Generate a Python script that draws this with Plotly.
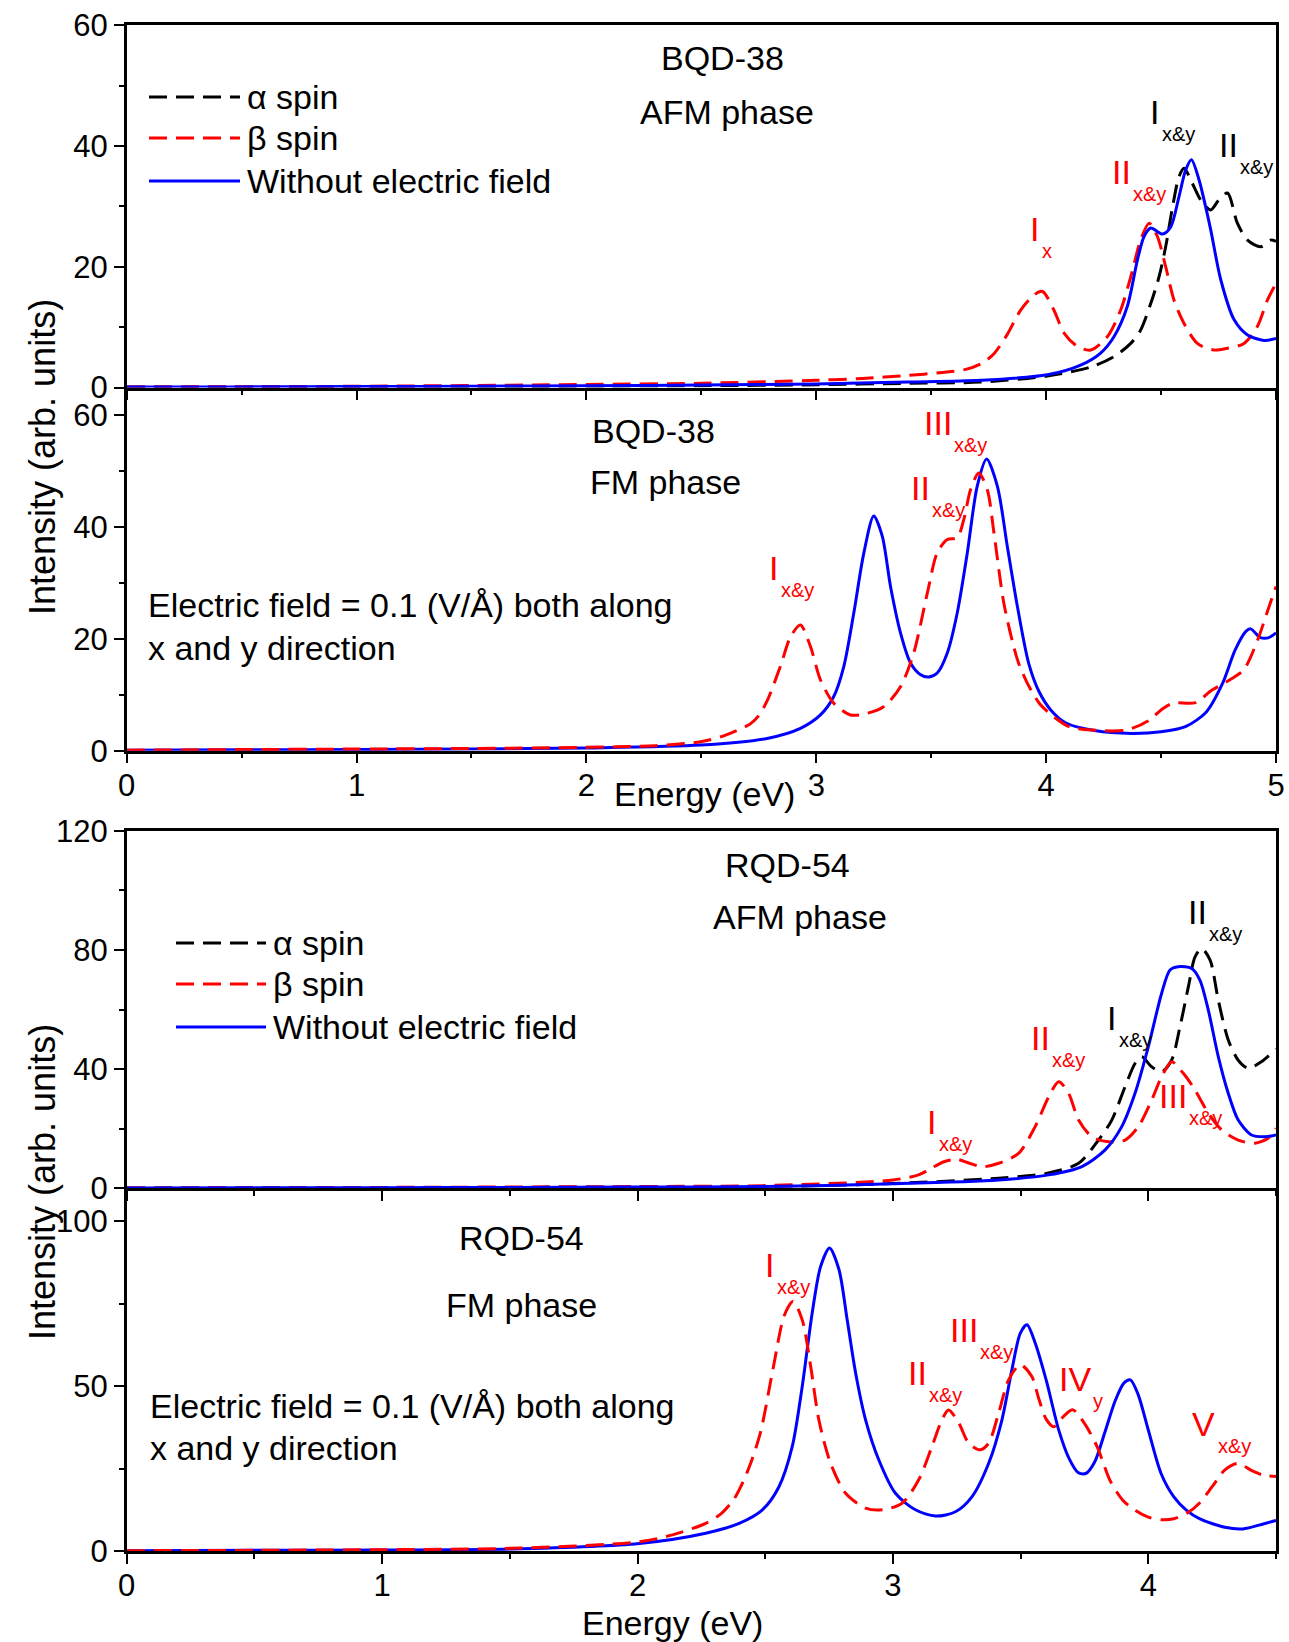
import plotly.graph_objects as go

W, H = 1289, 1642
FONT = "Liberation Sans, Arial, Helvetica, sans-serif"

# ---------------- data ----------------
# Panel 1: BQD-38, AFM phase
p1_blue_x = [0, 0.5, 1, 1.5, 2, 2.5, 3, 3.4, 3.715, 4.005, 4.15, 4.237, 4.295, 4.353, 4.397, 4.426, 4.455, 4.506,
             4.542, 4.578, 4.607, 4.632, 4.665, 4.694, 4.716, 4.76, 4.818, 4.876, 4.948, 5.0]
p1_blue_y = [0.1, 0.1, 0.15, 0.2, 0.3, 0.4, 0.6, 0.9, 1.2, 2.1, 3.7, 5.7, 8.4, 13.4, 21.1, 25.0, 26.4, 25.4,
             26.6, 31.6, 36.0, 37.7, 34.4, 29.9, 26.1, 17.8, 11.2, 8.7, 7.8, 8.1]
p1_alpha_x = [0, 1, 2, 2.5, 3, 3.4, 3.715, 4.005, 4.195, 4.295, 4.368, 4.411, 4.455, 4.491, 4.52, 4.55, 4.578, 4.6,
              4.636, 4.673, 4.716, 4.75, 4.789, 4.832, 4.876, 4.934, 4.977, 5.0]
p1_alpha_y = [0.05, 0.1, 0.2, 0.3, 0.45, 0.7, 0.9, 1.9, 3.4, 5.1, 7.3, 9.5, 13.9, 18.3, 23.3, 29.9, 34.9, 36.3,
              33.8, 31.0, 29.4, 31.0, 32.2, 27.2, 24.4, 23.3, 24.4, 24.2]
p1_beta_x = [0, 1, 2, 2.5, 3, 3.2, 3.4, 3.55, 3.65, 3.72, 3.773, 3.831, 3.889, 3.947, 3.984, 4.034, 4.078, 4.136,
             4.194, 4.266, 4.324, 4.368, 4.411, 4.448, 4.484, 4.52, 4.556, 4.6, 4.658, 4.73, 4.789, 4.861, 4.919,
             4.963, 5.0]
p1_beta_y = [0.1, 0.2, 0.5, 0.7, 1.2, 1.5, 2.0, 2.5, 3.0, 4.0, 5.6, 8.8, 12.8, 15.3, 15.9, 12.8, 9.0, 6.8,
             6.2, 8.4, 12.8, 18.3, 24.4, 27.2, 25.0, 20.0, 14.5, 10.6, 7.3, 6.2, 6.5, 7.3, 10.1,
             14.5, 17.2]

# Panel 2: BQD-38, FM phase (with electric field)
p2_blue_x = [0, 0.5, 1, 1.5, 2, 2.496, 2.786, 2.931, 3.018, 3.076, 3.12, 3.163, 3.207, 3.25, 3.287, 3.323, 3.367,
             3.41, 3.454, 3.49, 3.526, 3.57, 3.613, 3.657, 3.7, 3.741, 3.788, 3.831, 3.875, 3.925, 3.97, 4.02,
             4.084, 4.21, 4.372, 4.5, 4.606, 4.696, 4.768, 4.822, 4.87, 4.89, 4.93, 4.966, 5.0]
p2_blue_y = [0.1, 0.15, 0.2, 0.3, 0.5, 1.0, 2.2, 4.0, 6.4, 9.7, 15.1, 24.6, 35.4, 42.0, 38.4, 29.4, 21.0,
             15.7, 13.6, 13.2, 13.9, 17.5, 24.6, 35.4, 47.3, 52.2, 47.3, 36.6, 25.8, 15.5, 10.5, 7.3,
             5.0, 3.6, 3.1, 3.4, 4.3, 6.9, 12.1, 18.0, 21.4, 21.8, 20.3, 20.2, 21.1]
p2_beta_x = [0, 0.5, 1, 1.5, 2, 2.3, 2.496, 2.6, 2.713, 2.75, 2.786, 2.844, 2.888, 2.931, 2.975, 3.018, 3.076,
             3.149, 3.222, 3.294, 3.367, 3.424, 3.483, 3.526, 3.57, 3.613, 3.642, 3.671, 3.707, 3.744, 3.773,
             3.816, 3.875, 3.918, 3.97, 4.02, 4.1, 4.2, 4.35, 4.45, 4.5, 4.55, 4.65, 4.72, 4.8, 4.86, 4.92,
             4.96, 5.0]
p2_beta_y = [0.1, 0.2, 0.3, 0.4, 0.6, 0.9, 1.6, 2.7, 4.8, 6.3, 8.9, 15.1, 20.4, 22.5, 18.6, 12.7, 8.5,
             6.4, 6.7, 7.9, 11.5, 17.5, 28.2, 35.4, 37.8, 38.1, 41.4, 46.7, 49.7, 46.7, 39.0,
             26.4, 16.3, 12.1, 8.5, 6.5, 4.3, 3.7, 3.7, 5.5, 7.3, 8.5, 8.6, 10.8, 12.7, 14.5, 19.8,
             24.6, 29.4]

# Panel 3: RQD-54, AFM phase
p3_blue_x = [0, 0.5, 1, 1.5, 2, 2.5, 3.0, 3.414, 3.61, 3.74, 3.831, 3.896, 3.948, 4.0, 4.052, 4.085, 4.117, 4.17,
             4.202, 4.235, 4.274, 4.313, 4.352, 4.404, 4.456, 4.5]
p3_blue_y = [0.1, 0.15, 0.2, 0.3, 0.4, 0.6, 1.5, 2.8, 4.5, 7.3, 12.9, 20.7, 31.9, 47.5, 65.4, 73.3, 74.4, 73.8,
             69.9, 59.8, 44.2, 31.9, 22.9, 17.9, 17.3, 17.9]
p3_alpha_x = [0, 1, 2, 2.5, 3.0, 3.414, 3.6, 3.727, 3.805, 3.857, 3.909, 3.948, 3.974, 4.013, 4.052, 4.091, 4.124,
              4.157, 4.183, 4.209, 4.242, 4.274, 4.313, 4.352, 4.391, 4.443, 4.5]
p3_alpha_y = [0.1, 0.2, 0.4, 0.6, 1.6, 3.4, 5.0, 8.4, 16.2, 22.9, 34.1, 41.9, 44.2, 40.8, 39.1, 43.0, 54.2,
              67.7, 77.7, 80.5, 76.6, 63.2, 49.8, 43.0, 40.3, 42.5, 46.8]
p3_beta_x = [0, 1, 2, 2.5, 3.0, 3.1, 3.15, 3.2, 3.25, 3.3, 3.35, 3.414, 3.492, 3.557, 3.61, 3.649, 3.688, 3.727,
             3.779, 3.844, 3.909, 3.961, 4.013, 4.052, 4.091, 4.137, 4.183, 4.235, 4.287, 4.352, 4.417, 4.469, 4.5]
p3_beta_y = [0.1, 0.3, 0.6, 0.9, 2.8, 4.5, 6.7, 8.9, 9.7, 8.4, 7.2, 8.4, 11.7, 20.7, 30.7, 35.8, 31.9, 22.9,
             17.3, 15.6, 16.2, 20.7, 29.6, 37.4, 42.5, 38.6, 33.0, 25.2, 19.6, 16.2, 15.1, 16.8, 20.1]

# Panel 4: RQD-54, FM phase (with electric field)
p4_blue_x = [0, 0.5, 1, 1.5, 2.007, 2.267, 2.398, 2.489, 2.554, 2.606, 2.645, 2.684, 2.717, 2.752, 2.789, 2.821,
             2.854, 2.893, 2.945, 3.01, 3.088, 3.167, 3.245, 3.31, 3.375, 3.427, 3.466, 3.499, 3.525, 3.557, 3.6,
             3.65, 3.69, 3.725, 3.755, 3.79, 3.83, 3.87, 3.905, 3.93, 3.96, 4.0, 4.05, 4.1, 4.15, 4.2, 4.3, 4.37,
             4.45, 4.5]
p4_blue_y = [0.1, 0.2, 0.3, 0.6, 2.3, 5.4, 8.4, 12.5, 19.5, 31.7, 49.9, 72.2, 86.3, 91.9, 85.3, 70.1,
             54.0, 39.8, 27.6, 17.5, 12.5, 10.6, 11.9, 16.5, 26.6, 39.8, 55.0, 66.1, 68.6, 63.1, 51.9,
             36.5, 28.0, 23.8, 23.5, 27.0, 36.0, 45.5, 51.0, 51.9, 47.5, 36.7, 23.5, 16.4, 12.3, 9.8, 7.2, 6.7,
             8.2, 9.3]
p4_beta_x = [0, 0.5, 1, 1.5, 2.007, 2.137, 2.267, 2.33, 2.38, 2.43, 2.48, 2.53, 2.575, 2.609, 2.645, 2.678,
             2.71, 2.756, 2.815, 2.893, 2.958, 3.036, 3.101, 3.153, 3.192, 3.218, 3.258, 3.297, 3.342, 3.375,
             3.414, 3.453, 3.499, 3.544, 3.57, 3.6, 3.63, 3.67, 3.705, 3.75, 3.8, 3.85, 3.9, 3.95, 4.0, 4.05,
             4.1, 4.15, 4.2, 4.25, 4.3, 4.35, 4.4, 4.45, 4.5]
p4_beta_y = [0.1, 0.2, 0.4, 0.8, 2.8, 4.9, 8.4, 11.5, 16.0, 24.0, 35.5, 55.0, 71.5, 75.7, 70.1, 56.0,
             39.8, 26.6, 17.5, 13.0, 12.5, 14.5, 21.6, 31.7, 39.8, 42.8, 38.8, 32.7, 30.7, 32.7,
             41.8, 51.9, 56.5, 52.9, 46.5, 40.0, 37.7, 41.0, 42.8, 38.7, 31.6, 21.4, 15.4, 12.3, 10.3, 9.5,
             9.8, 11.4, 14.5, 19.5, 24.6, 26.6, 24.6, 23.0, 22.6]

x_ranges = [[0, 5], [0, 5], [0, 4.5], [0, 4.5]]
y_ranges = [[0, 60], [0, 65], [0, 120], [0, 110]]
y_dticks = [20, 20, 40, 50]
x_ticklabels_on = [False, True, False, True]

legend_labels = ["\u03b1 spin", "\u03b2 spin", "Without electric field"]

# ---------------- figure ----------------
BLACK, RED, BLUE = "#000000", "#FF0000", "#0000FF"
DASH = "18px,9px"
LW = 3

fig = go.Figure()

def add(x, y, color, dash, k):
    fig.add_trace(go.Scatter(x=x, y=y, mode="lines",
                             line=dict(color=color, width=LW, dash=dash, shape="spline", smoothing=0.8),
                             xaxis="x" if k == 1 else f"x{k}", yaxis="y" if k == 1 else f"y{k}",
                             showlegend=False, hoverinfo="skip"))

add(p1_alpha_x, p1_alpha_y, BLACK, DASH, 1)
add(p1_beta_x, p1_beta_y, RED, DASH, 1)
add(p1_blue_x, p1_blue_y, BLUE, "solid", 1)
add(p2_blue_x, p2_blue_y, BLUE, "solid", 2)
add(p2_beta_x, p2_beta_y, RED, DASH, 2)
add(p3_alpha_x, p3_alpha_y, BLACK, DASH, 3)
add(p3_beta_x, p3_beta_y, RED, DASH, 3)
add(p3_blue_x, p3_blue_y, BLUE, "solid", 3)
add(p4_blue_x, p4_blue_y, BLUE, "solid", 4)
add(p4_beta_x, p4_beta_y, RED, DASH, 4)

# plot areas in pixels: (top, bottom)
X0, X1 = 126.7, 1276.0
panels_px = [(25.1, 387.5), (387.5, 750.7), (830.8, 1188.3), (1188.3, 1551.0)]
x_mirror = [True, False, True, False]

layout = dict(width=W, height=H, margin=dict(l=0, r=0, t=0, b=0, autoexpand=False),
              paper_bgcolor="white", plot_bgcolor="white", showlegend=False,
              font=dict(family=FONT, color="black"))

for i, (top, bot) in enumerate(panels_px):
    k = i + 1
    xn = "xaxis" if k == 1 else f"xaxis{k}"
    yn = "yaxis" if k == 1 else f"yaxis{k}"
    ya = "y" if k == 1 else f"y{k}"
    xa = "x" if k == 1 else f"x{k}"
    layout[xn] = dict(domain=[X0 / W, X1 / W], range=x_ranges[i], anchor=ya, automargin=False,
                      showline=True, linecolor="black", linewidth=2.5, mirror=x_mirror[i],
                      ticks="outside", ticklen=10, tickwidth=2, tickcolor="black",
                      tick0=0, dtick=1, showticklabels=x_ticklabels_on[i], ticklabelstandoff=-5,
                      tickfont=dict(size=31, family=FONT, color="black"),
                      minor=dict(ticks="outside", ticklen=5, tickwidth=2, tickcolor="black", dtick=0.5),
                      showgrid=False, zeroline=False, fixedrange=True)
    layout[yn] = dict(domain=[1 - bot / H, 1 - top / H], range=y_ranges[i], anchor=xa, automargin=False,
                      showline=True, linecolor="black", linewidth=2.5, mirror=True,
                      ticks="outside", ticklen=10, tickwidth=2, tickcolor="black",
                      tick0=0, dtick=y_dticks[i],
                      tickfont=dict(size=31, family=FONT, color="black"),
                      minor=dict(ticks="outside", ticklen=5, tickwidth=2, tickcolor="black",
                                 dtick=y_dticks[i] / 2),
                      showgrid=False, zeroline=False, fixedrange=True)

ann = []
shapes = []

def px_text(text, x, y, size=34, color="black", xanchor="center", yanchor="middle", angle=0):
    ann.append(dict(text=text, x=x / W, y=1 - y / H, xref="paper", yref="paper",
                    xanchor=xanchor, yanchor=yanchor, showarrow=False, textangle=angle,
                    font=dict(size=size, color=color, family=FONT)))

SUB_OFF = {"I": 8.5, "II": 18.0, "III": 27.0, "IV": 31.0, "V": 22.5}

def peak(main, sub, xl, yc, color):
    px_text(main, xl - 4, yc, size=34, color=color, xanchor="left")
    px_text(sub, xl + SUB_OFF[main] - 1, yc + 22, size=20, color=color, xanchor="left")

# panel titles
px_text("BQD-38", 722, 58)
px_text("AFM phase", 727, 112)
px_text("BQD-38", 653, 431)
px_text("FM phase", 665, 482)
px_text("RQD-54", 787, 865)
px_text("AFM phase", 800, 917)
px_text("RQD-54", 521, 1238)
px_text("FM phase", 521, 1305)

px_text("Electric field = 0.1 (V/\u00c5) both along", 146, 605, xanchor="left")
px_text("x and y direction", 146, 648, xanchor="left")
px_text("Electric field = 0.1 (V/\u00c5) both along", 148, 1406, xanchor="left")
px_text("x and y direction", 148, 1448, xanchor="left")

# axis titles
px_text("Intensity (arb. units)", 42, 457, size=36, angle=-90)
px_text("Intensity (arb. units)", 42, 1182, size=36, angle=-90)
px_text("Energy (eV)", 704, 794)
px_text("Energy (eV)", 673, 1623)

# peak labels
peak("I", "x", 1032, 229, RED)
peak("II", "x&y", 1114, 172, RED)
peak("I", "x&y", 1152, 112, BLACK)
peak("II", "x&y", 1221, 145, BLACK)

peak("I", "x&y", 771, 568, RED)
peak("II", "x&y", 913, 488, RED)
peak("III", "x&y", 926, 423, RED)

peak("I", "x&y", 929, 1122, RED)
peak("II", "x&y", 1033, 1038, RED)
peak("I", "x&y", 1109, 1018, BLACK)
peak("II", "x&y", 1190, 912, BLACK)
peak("III", "x&y", 1161, 1096, RED)

peak("I", "x&y", 767, 1265, RED)
peak("II", "x&y", 910, 1373, RED)
peak("III", "x&y", 952, 1330, RED)
peak("IV", "y", 1061, 1379, RED)
peak("V", "x&y", 1194, 1424, RED)

# custom legends (panel 1 and panel 3)
def legend_block(x0, x1, ys, tx):
    styles = [(BLACK, DASH), (RED, DASH), (BLUE, "solid")]
    for (c, d), yy, lab in zip(styles, ys, legend_labels):
        shapes.append(dict(type="line", xref="paper", yref="paper",
                           x0=x0 / W, x1=x1 / W, y0=1 - yy / H, y1=1 - yy / H,
                           line=dict(color=c, width=LW, dash=d)))
        px_text(lab, tx, yy, xanchor="left")

legend_block(149, 240, [97, 138, 181], 245)
legend_block(176, 266, [943, 984, 1027], 271)

layout["annotations"] = ann
layout["shapes"] = shapes
fig.update_layout(**layout)

fig.write_html("out.html")
